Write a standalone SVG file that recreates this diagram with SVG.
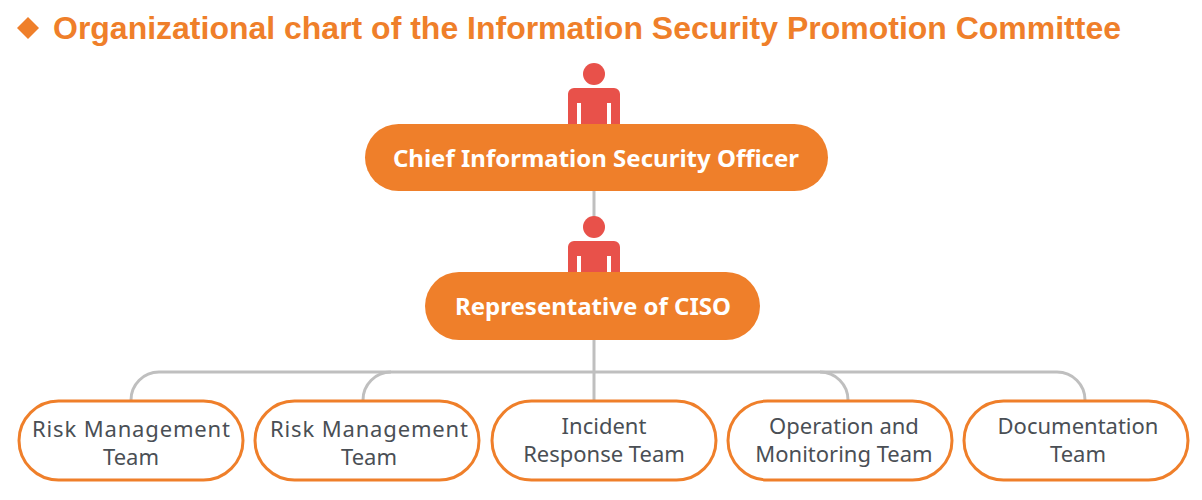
<svg xmlns="http://www.w3.org/2000/svg" width="1202" height="500" viewBox="0 0 1202 500">
<style>
.t{font-family:"Liberation Sans",Arial,sans-serif;font-weight:bold;font-size:31px;fill:#ef7f2a}
.b{fill:#ef7f2a}
.bt{font-family:"Noto Sans",sans-serif;font-weight:bold;font-size:24px;fill:#fff;text-anchor:middle}
.w{fill:#fff;stroke:#ef7f2a;stroke-width:3}
.wt{font-family:"Noto Sans",sans-serif;font-size:22px;fill:#4a4f55;text-anchor:middle}
.p{fill:#e8514a}
.c{fill:none;stroke:#bfbfbf;stroke-width:3}
</style>
<defs>
<g id="person"><circle cx="0" cy="-14" r="11" class="p"/><path class="p" d="M-26 36V6a6 6 0 0 1 6-6H20a6 6 0 0 1 6 6V36H17V15H13V36H-13V15H-17V36Z"/></g>
</defs>
<path d="M28 17 L39 28 L28 39 L17 28Z" class="b"/>
<text x="53" y="39" class="t" textLength="1068" lengthAdjust="spacingAndGlyphs">Organizational chart of the Information Security Promotion Committee</text>
<g id="connectors">
<line class="c" x1="594" y1="190" x2="594" y2="230"/>
<path class="c" d="M594 340V400"/>
<path class="c" d="M131 400A28 28 0 0 1 159 372H1057A28 28 0 0 1 1085 400"/>
<path class="c" d="M363 400A28 28 0 0 1 391 372"/>
<path class="c" d="M848 400A28 28 0 0 0 820 372"/>
</g>
<g id="icon1"><use href="#person" x="594" y="88"/></g>
<g id="ciso"><rect x="365" y="124" width="463" height="67" rx="33.5" class="b"/><text x="596" y="167" class="bt">Chief Information Security Officer</text></g>
<g id="icon2"><use href="#person" x="594" y="241"/></g>
<g id="rep"><rect x="425" y="272" width="335" height="68" rx="34" class="b"/><text x="593" y="315" class="bt">Representative of CISO</text></g>
<g id="n1"><rect x="19" y="401" width="224" height="79" rx="39.5" class="w"/><text x="131" y="437" class="wt" textLength="198">Risk Management</text><text x="131" y="465" class="wt">Team</text></g>
<g id="n2"><rect x="255" y="401" width="224" height="79" rx="39.5" class="w"/><text x="369" y="437" class="wt" textLength="198">Risk Management</text><text x="369" y="465" class="wt">Team</text></g>
<g id="n3"><rect x="492" y="401" width="224" height="79" rx="39.5" class="w"/><text x="604" y="434" class="wt">Incident</text><text x="604" y="462" class="wt">Response Team</text></g>
<g id="n4"><rect x="728" y="401" width="224" height="79" rx="39.5" class="w"/><text x="844" y="434" class="wt">Operation and</text><text x="844" y="462" class="wt">Monitoring Team</text></g>
<g id="n5"><rect x="964" y="401" width="224" height="79" rx="39.5" class="w"/><text x="1078" y="434" class="wt">Documentation</text><text x="1078" y="462" class="wt">Team</text></g>
</svg>
